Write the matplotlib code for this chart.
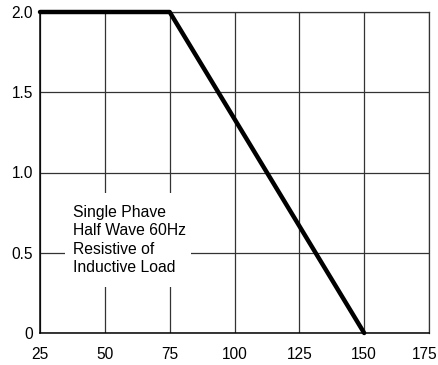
import matplotlib.pyplot as plt
import matplotlib.transforms as mtransforms
from matplotlib.patches import Rectangle

# derating curve
temps = [25, 75, 150]
current = [2.0, 2.0, 0.0]

x_ticks = [25, 50, 75, 100, 125, 150, 175]
y_ticks = [0, 0.5, 1.0, 1.5, 2.0]
y_labels = ["0", "0.5", "1.0", "1.5", "2.0"]

note = "Single Phave\nHalf Wave 60Hz\nResistive of\nInductive Load"

plt.rcParams['font.family'] = ['Liberation Sans', 'DejaVu Sans']

fig = plt.figure(figsize=(4.38, 3.65), dpi=100)
ax = fig.add_axes([40 / 438, 32 / 365, 389 / 438, 321 / 365])

ax.set_xlim(25, 175)
ax.set_ylim(0, 2.0)
ax.set_xticks(x_ticks)
ax.set_yticks(y_ticks)
ax.set_yticklabels(y_labels)
ax.tick_params(length=0, labelsize=11.2, colors='black')
ax.tick_params(axis='x', pad=10)
ax.tick_params(axis='y', pad=5)
ax.grid(True, color='#333333', linewidth=0.9)
ax.set_axisbelow(True)
for s in ax.spines.values():
    s.set_color('#333333')
    s.set_linewidth(0.9)
ax.spines['left'].set_color('black')
ax.spines['bottom'].set_color('black')
ax.spines['left'].set_linewidth(1.1)
ax.spines['bottom'].set_linewidth(1.1)

# last x label sits a little left so it fits
last = ax.get_xticklabels()[-1]
last.set_transform(last.get_transform() +
                   mtransforms.ScaledTranslation(-4 / 100, 0, fig.dpi_scale_trans))

# white box behind the note
ax.add_patch(Rectangle((34.6, 0.287), 48.6, 0.585, facecolor='white',
                       edgecolor='none', zorder=2))
ax.text(37.8, 0.80, note, fontsize=11.3, va='top', ha='left',
        linespacing=1.3, zorder=3)

ax.plot(temps, current, color='black', linewidth=3.2, zorder=4,
        solid_capstyle='round', clip_on=False)

fig.savefig('out.png', dpi=100)
